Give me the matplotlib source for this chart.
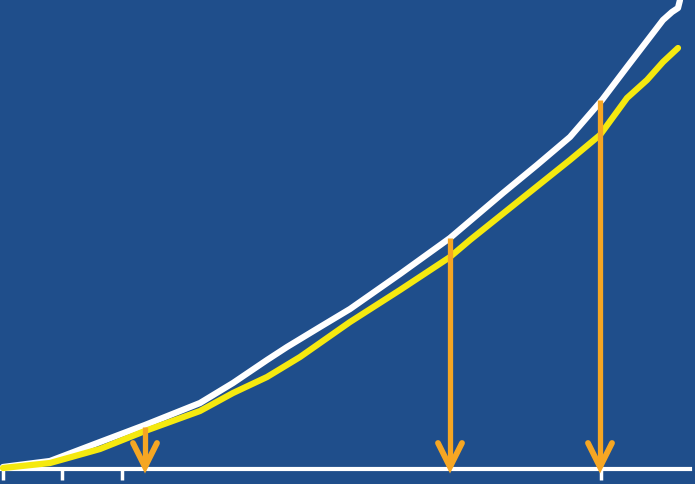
import matplotlib
matplotlib.use("Agg")
import matplotlib.pyplot as plt
import numpy as np

# curve samples (x, height above the axis line)
x_white = [3, 50, 100, 145, 200, 233, 267, 287, 320, 350, 400, 450, 470, 503, 537,
           570, 602, 627, 650, 663, 672, 678, 680]
y_white = [2, 8, 27, 44, 66, 86, 109, 122, 142, 160, 195, 231, 248, 276, 304,
           332, 369, 402, 432, 449, 457, 461, 469]
x_yellow = [3, 50, 100, 145, 200, 233, 267, 300, 320, 350, 400, 450, 470, 520, 570,
            600, 627, 647, 663, 678]
y_yellow = [1, 6, 20, 38, 58, 76, 92, 112, 126, 147, 179, 212, 229, 269, 309,
            334, 371, 389, 407, 421]

arrow_x = [145, 450, 600]
arrow_top = [42, 231, 369]
tick_x = [3, 62, 122, 601]

bg = '#1f4e8b'
orange = '#f5a623'

fig = plt.figure(figsize=(6.95, 4.84), dpi=100)
fig.patch.set_facecolor(bg)
ax = fig.add_axes([0, 0, 1, 1])
ax.set_facecolor(bg)

ax.plot(x_white, y_white, color='white', lw=4.5, solid_capstyle='round',
        solid_joinstyle='round', zorder=3)
ax.plot(x_yellow, y_yellow, color='#f5e90f', lw=4.5, solid_capstyle='round',
        solid_joinstyle='round', zorder=3)

# downward arrows: shaft plus open head
for xa, ya in zip(arrow_x, arrow_top):
    ax.plot([xa, xa], [ya, 2], color=orange, lw=3.8, solid_capstyle='butt', zorder=4)
    ax.plot([xa - 12, xa, xa + 12], [26, 2, 26], color=orange, lw=4.2,
            solid_capstyle='round', solid_joinstyle='miter', zorder=4)

ax.set_xlim(0, 695)
ax.set_ylim(-15, 469)
for s in ['top', 'right', 'left']:
    ax.spines[s].set_visible(False)
ax.spines['bottom'].set_position(('data', 0))
ax.spines['bottom'].set_color('white')
ax.spines['bottom'].set_linewidth(3)
ax.spines['bottom'].set_bounds(0, 690)
ax.set_xticks(tick_x)
ax.set_xticklabels([])
ax.tick_params(axis='x', direction='out', length=8, width=2.5, color='white')
ax.set_yticks([])

fig.savefig('out.png', dpi=100, facecolor=bg)
